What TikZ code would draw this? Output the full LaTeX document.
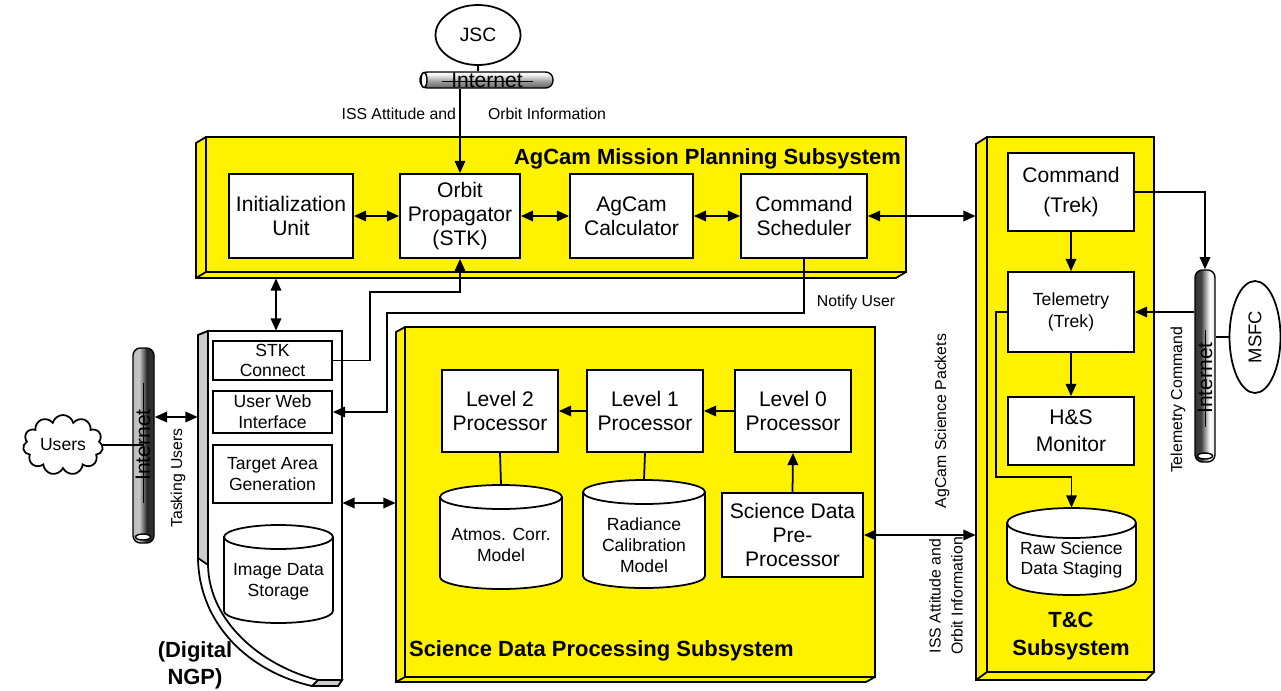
\documentclass[tikz,border=0pt]{standalone}
\usepackage{fontspec}
\setmainfont{Liberation Sans}
\usetikzlibrary{shapes.geometric, shapes.symbols, arrows.meta, positioning, fit}
\newcommand{\bxfont}{\fontsize{12}{13.8}\selectfont}
\newcommand{\smfont}{\fontsize{10}{11.8}\selectfont}
\newcommand{\lbfont}{\fontsize{9}{12.5}\selectfont}
\newcommand{\ttlfont}{\fontsize{12.5}{15.5}\selectfont\bfseries}
\pgfdeclareverticalshading{hpipeshade}{100bp}{color(0bp)=(black!85); color(45bp)=(gray!80); color(70bp)=(white); color(100bp)=(gray!55)}
\pgfdeclarehorizontalshading{lpipeshade}{100bp}{color(0bp)=(gray!65); color(40bp)=(gray!45); color(58bp)=(black!85); color(100bp)=(black!70)}
\pgfdeclarehorizontalshading{rpipeshade}{100bp}{color(0bp)=(black!85); color(40bp)=(black!75); color(62bp)=(white); color(100bp)=(gray!60)}
% data store drawn as a cylinder: left, top, right, bottom, cap radius
\newcommand{\dbcyl}[5]{%
  \draw[line width=1pt, fill=white] (#1,#2+#5) -- (#1,#4-#5)
    arc[start angle=180, end angle=360, x radius={(#3-#1)*0.01cm}, y radius={#5*0.02cm}]
    -- (#3,#2+#5)
    arc[start angle=0, end angle=180, x radius={(#3-#1)*0.01cm}, y radius={#5*0.02cm}] -- cycle;
  \draw[line width=1pt] (#1,#2+#5)
    arc[start angle=180, end angle=360, x radius={(#3-#1)*0.01cm}, y radius={#5*0.02cm}];}
\tikzstyle{box} = [draw, fill=white, line width=1pt, inner sep=0pt, align=center, font=\bxfont]
\tikzstyle{sbox} = [box, font=\smfont]
\tikzstyle{dbtext} = [inner sep=0pt, align=center, font=\smfont]
\tikzstyle{subsys} = [draw, fill=yellow, line width=1pt]
\tikzstyle{area} = [inner sep=0pt]
\tikzstyle{pipe} = [draw, line width=0.8pt, rounded corners=0.15cm, inner sep=0pt]
\tikzstyle{arrow} = [line width=1pt, -{Triangle[length=7pt,width=6pt]}]
\tikzstyle{darrow} = [line width=1pt, {Triangle[length=7pt,width=6pt]}-{Triangle[length=7pt,width=6pt]}]
\tikzstyle{link} = [line width=1pt]
\tikzstyle{lbl} = [font=\lbfont, inner sep=1pt]
\tikzstyle{title} = [font=\ttlfont, inner sep=1pt, align=center]
\tikzstyle{netfont} = [font=\fontsize{12}{14}\selectfont, inner sep=0pt]
\tikzset{sz/.style 2 args={minimum width={#1*0.02cm}, minimum height={#2*0.02cm}}}

\begin{document}
\begin{tikzpicture}[x=0.02cm, y=-0.02cm]
\useasboundingbox (0,0) rectangle (1281,690);

% JSC and its internet link
\node[ellipse, draw, line width=1pt, minimum width=1.7cm, minimum height=1.2cm, inner sep=0pt, font=\fontsize{11}{13}\selectfont] (jsc) at (478,35) {JSC};
\node[pipe, shading=hpipeshade, fit={(420,72) (553,88)}] (inetjsc) {};
\draw[fill=white, line width=0.8pt] (424,80) ellipse [x radius=0.06cm, y radius=0.15cm];
\node[netfont] (inetjsct) at (487,80) {Internet};
\draw (442,81) -- (533,81);
\draw[link] (jsc.south) -- (jsc.south |- inetjsc.north);

% AgCam Mission Planning Subsystem
\draw[subsys] (196,143) -- (206,137) -- (906,137) -- (906,272) -- (896,278) -- (196,278) -- cycle;
\draw[subsys] (206,137) rectangle (906,272);
\draw[line width=1pt] (196,278) -- (206,272);
\node[area, fit={(196,137) (906,278)}] (mps) {};
\node[title, anchor=east] (mpst) at (903,159) {AgCam Mission Planning Subsystem};
\node[box, sz={124}{84}] (init) at (291,216) {Initialization\\Unit};
\node[box, sz={120}{84}] (orbit) at (460,216) {Orbit\\Propagator\\(STK)};
\node[box, sz={123}{84}] (calc) at (631.5,216) {AgCam\\Calculator};
\node[box, sz={126}{84}] (cs) at (804,216) {Command\\Scheduler};

% Science Data Processing Subsystem
\draw[subsys] (396,332) -- (405,327) -- (875,327) -- (875,677) -- (866,682) -- (396,682) -- cycle;
\draw[subsys] (405,327) rectangle (875,677);
\draw[line width=1pt] (396,682) -- (405,677);
\node[area, fit={(396,327) (875,682)}] (sdp) {};
\node[title, anchor=west] (sdpt) at (407,651) {Science Data Processing Subsystem};
\node[box, sz={116}{82}] (l2) at (500,411) {Level 2\\Processor};
\node[box, sz={116}{82}] (l1) at (645,411) {Level 1\\Processor};
\node[box, sz={116}{82}] (l0) at (793,411) {Level 0\\Processor};
\dbcyl{440}{485}{562}{589}{12}
\node[area, sz={122}{104}] (atm) at (501,537) {};
\node[dbtext] (atmt) at (501,545) {Atmos. Corr.\\Model};
\dbcyl{583}{480}{705}{588}{12}
\node[area, sz={122}{108}] (rad) at (644,534) {};
\node[dbtext] (radt) at (644,545) {Radiance\\Calibration\\Model};
\node[box, sz={141}{84}] (pre) at (792.5,535) {Science Data\\Pre-\\Processor};

% T&C Subsystem
\draw[subsys] (976,144) -- (987,137) -- (1154,137) -- (1154,672) -- (1146,680) -- (976,680) -- cycle;
\draw[subsys] (987,137) rectangle (1154,672);
\draw[line width=1pt] (976,680) -- (987,672);
\node[area, fit={(976,137) (1154,680)}] (tc) {};
\node[title] (tct) at (1071,636) {T\&C\\Subsystem};
\node[box, sz={126}{78}, font=\fontsize{12}{17.5}\selectfont] (cmd) at (1071,192) {Command\\(Trek)};
\node[sbox, sz={126}{80}, font=\fontsize{10}{12.5}\selectfont] (tel) at (1071,312) {Telemetry\\(Trek)};
\node[box, sz={126}{68}, font=\fontsize{12}{15.5}\selectfont] (hs) at (1071,431) {H\&S\\Monitor};
\dbcyl{1007}{508}{1136}{595}{15}
\node[area, sz={129}{87}] (raw) at (1071.5,551.5) {};
\node[dbtext] (rawt) at (1071.5,560) {Raw Science\\Data Staging};

% Digital NGP
\draw[line width=1pt, fill=white] (198,335) -- (208,331) -- (342,331) -- (342,680) -- (338,686) -- (312,686) .. controls (250,672) and (199,625) .. (198,558) -- cycle;
\draw[line width=1pt, fill=gray!40] (198,335) -- (208,331) -- (208,565) -- (198,558) -- cycle;
\draw[line width=1pt, fill=white] (208,331) -- (342,331) -- (342,680) -- (318,680) .. controls (262,666) and (209,622) .. (208,565) -- cycle;
\draw[line width=1pt, fill=gray!40] (312,686) -- (318,680) -- (342,680) -- (338,686) -- cycle;
\node[area, fit={(198,331) (342,686)}] (ngp) {};
\node[title] (ngpt) at (195,665) {(Digital\\NGP)};
\node[sbox, sz={119}{39}] (stk) at (272.5,360.5) {STK\\Connect};
\node[sbox, sz={119}{42}] (uwi) at (272.5,412) {User Web\\Interface};
\node[sbox, sz={119}{58}] (tag) at (272.5,474) {Target Area\\Generation};
\dbcyl{224}{525}{333}{623}{12}
\node[area, sz={109}{98}] (ids) at (278.5,574) {};
\node[dbtext] (idst) at (278.5,582) {Image Data\\Storage};

% Users side
\node[pipe, shading=lpipeshade, fit={(133,348) (154,543)}] (inetusr) {};
\draw[fill=white, line width=0.8pt] (143,537) ellipse [x radius=0.15cm, y radius=0.06cm];
\node[netfont, rotate=90] (inetusrt) at (143,445) {Internet};
\draw (143,383) -- (143,503);
\node[cloud, cloud puffs=11, aspect=1.4, draw, fill=white, line width=1pt, minimum width=1.6cm, minimum height=1.2cm, inner sep=0pt, font=\fontsize{10}{12}\selectfont] (users) at (63,445) {Users};
\draw[link] (users.east) -- (users.east -| inetusr.center);

% MSFC side
\node[pipe, shading=rpipeshade, fit={(1195,270) (1215,462)}] (inetmsfc) {};
\draw[fill=white, line width=0.8pt] (1205,456) ellipse [x radius=0.15cm, y radius=0.06cm];
\node[netfont, rotate=90] (inetmsfct) at (1205,378) {Internet};
\draw (1205,330) -- (1205,427);
\node[ellipse, draw, line width=1pt, rotate=90, minimum width=2.24cm, minimum height=1.02cm, inner sep=0pt, font=\fontsize{10.5}{12}\selectfont] (msfc) at (1255,337) {MSFC};
\draw[link] (msfc.north) -- (msfc.north -| inetmsfc.east);

% connectors, planning subsystem
\draw[arrow] (inetjsc.south -| orbit.north) -- (orbit.north);
\node[lbl, anchor=east] (issl) at (458,114) {ISS Attitude and};
\node[lbl, anchor=west] (orbl) at (486,114) {Orbit Information};
\draw[darrow] (init.east) -- (orbit.west);
\draw[darrow] (orbit.east) -- (calc.west);
\draw[darrow] (calc.east) -- (cs.west);
\draw[darrow] (cs.east) -- (cs.east -| tc.west);
\coordinate (c0) at (276,300);
\draw[darrow] (c0 |- mps.south) -- (c0 |- ngp.north);
\coordinate (c1) at (370,292);
\draw[arrow] (stk.east) -| (c1) -| (orbit.south);
\coordinate (c2) at (387,313);
\draw[arrow] (cs.south) |- (c2) |- (uwi.east);
\node[lbl] (notl) at (856,302) {Notify User};

% connectors, users and NGP
\coordinate (c4) at (170,417);
\draw[darrow] (inetusr.east |- c4) -- (ngp.west |- c4);
\node[lbl, rotate=90] (taskl) at (178,478) {Tasking Users};
\coordinate (c5) at (370,503);
\draw[darrow] (ngp.east |- c5) -- (sdp.west |- c5);

% connectors, science data processing
\draw[arrow] (l1.west) -- (l2.east);
\draw[arrow] (l0.west) -- (l1.east);
\draw[arrow] (pre.north) -- (l0.south);
\draw[link] (l2.south) -- (atm.north);
\draw[link] (l1.south) -- (rad.north);
\draw[darrow] (pre.east) -- (pre.east -| tc.west);
\node[lbl, rotate=90] (pktl) at (942,421) {AgCam Science Packets};
\node[lbl, rotate=90, align=center] (attl) at (946,596) {ISS Attitude and\\Orbit Information};

% connectors, T&C
\draw[arrow] (cmd.south) -- (tel.north);
\draw[arrow] (tel.south) -- (hs.north);
\coordinate (c3) at (996,477);
\draw[arrow] (tel.west) -| (c3) -| (raw.north);
\draw[arrow] (cmd.east) -| (inetmsfc.north);
\draw[arrow] (inetmsfc.west |- tel.east) -- (tel.east);
\node[lbl, rotate=90] (tcmdl) at (1178,400) {Telemetry Command};
\end{tikzpicture}
\end{document}
